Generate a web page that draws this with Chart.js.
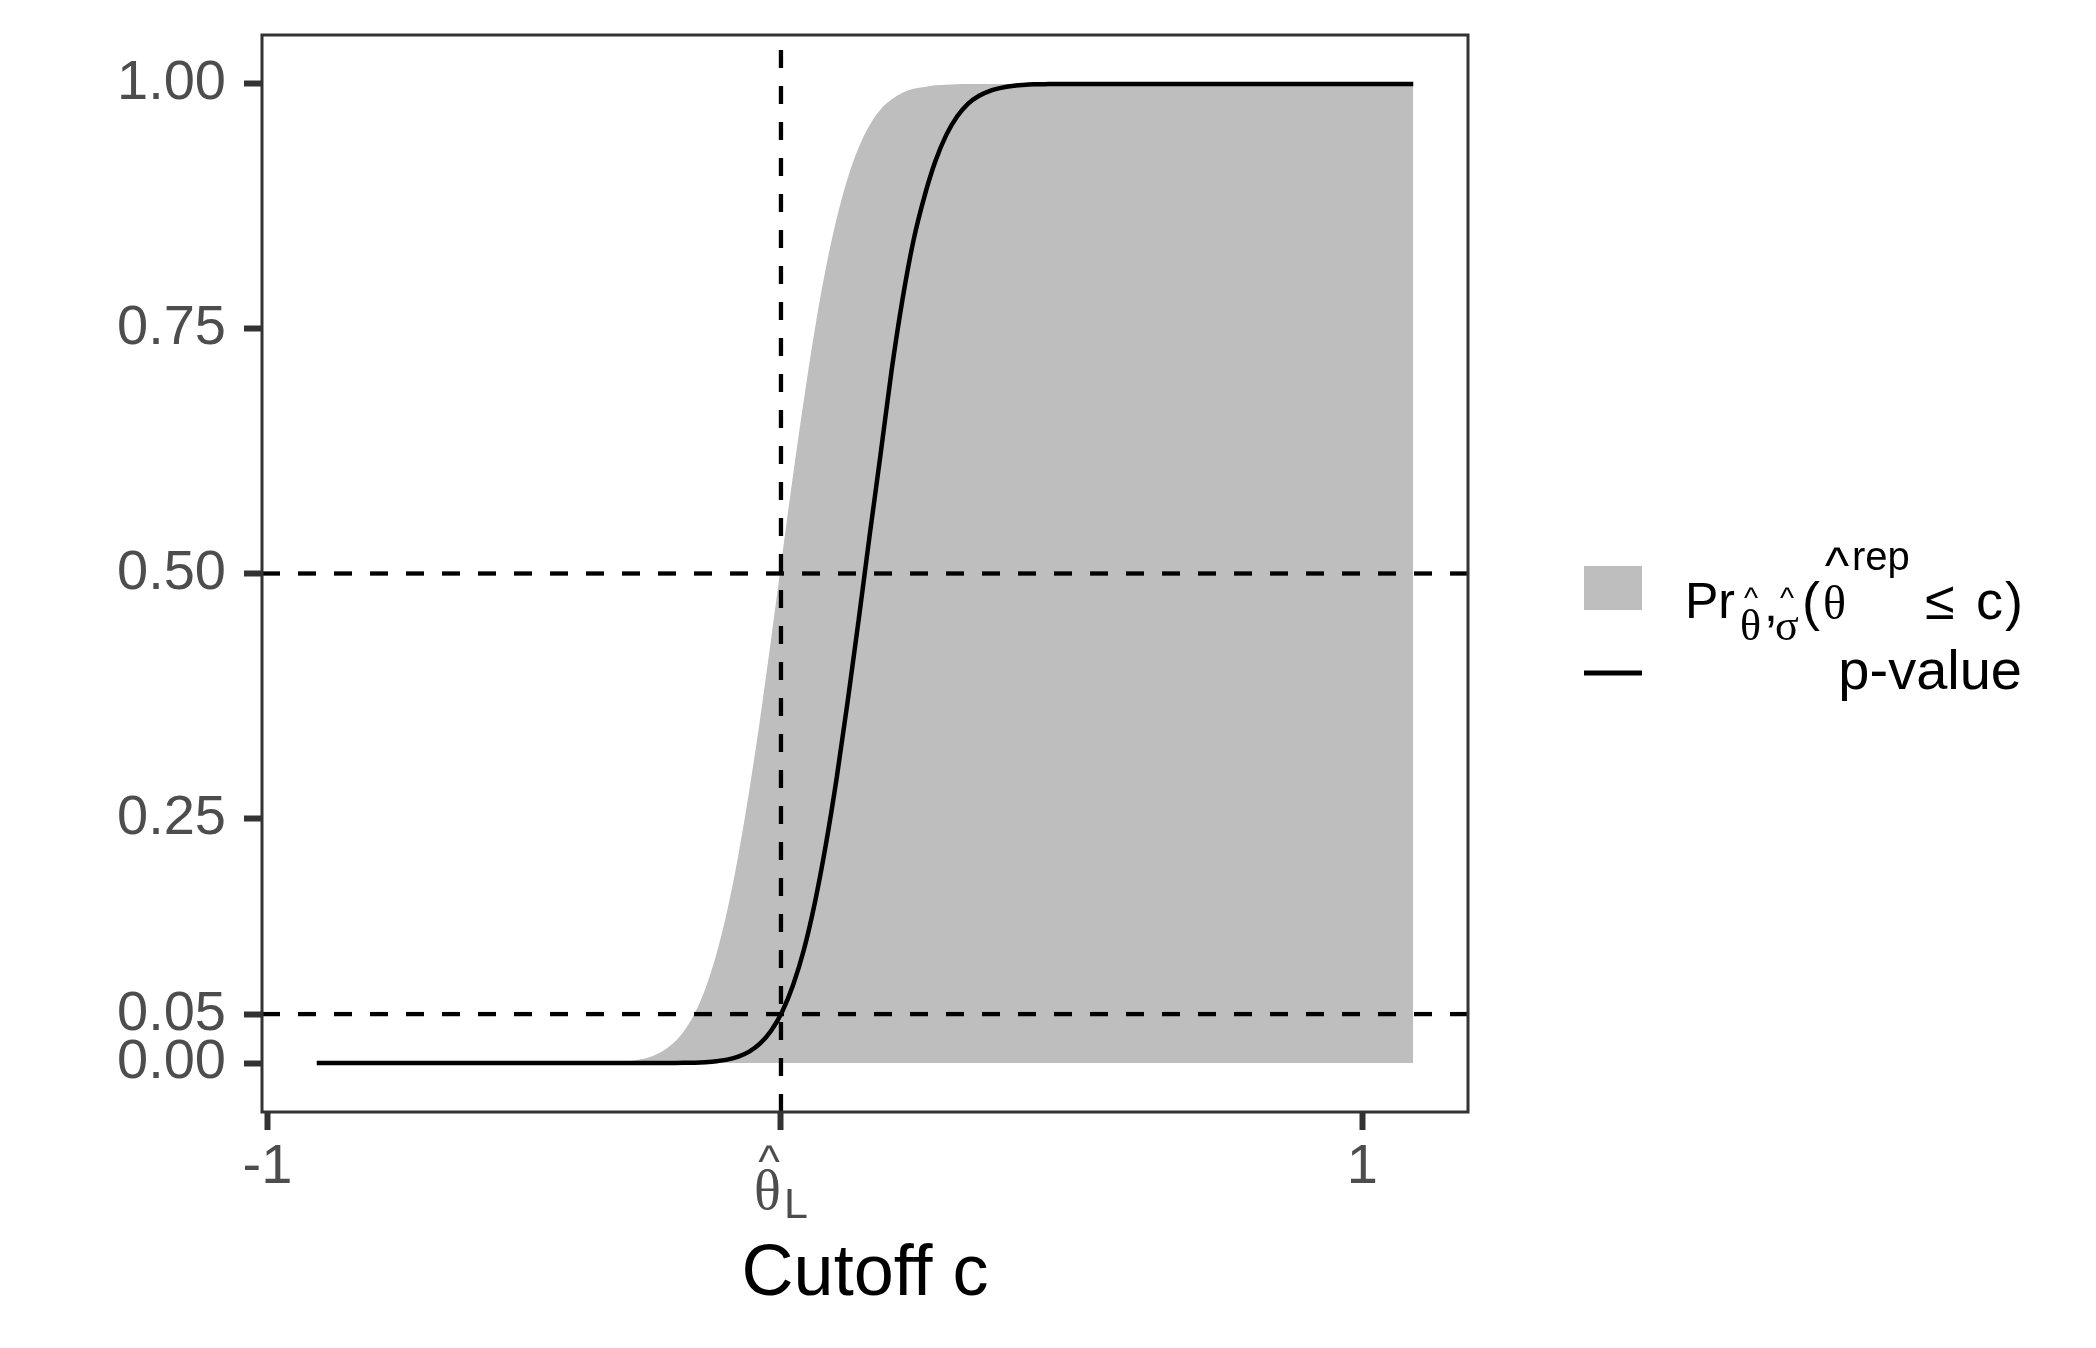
<!DOCTYPE html>
<html>
<head>
<meta charset="utf-8">
<script src="https://cdn.jsdelivr.net/npm/chart.js@4.4.1/dist/chart.umd.min.js"></script>
<style>
html,body{margin:0;padding:0;background:#ffffff;}
#wrap{width:2096px;height:1348px;}
</style>
</head>
<body>
<div id="wrap"><canvas id="c" width="2096" height="1348"></canvas></div>
<script>
// ---- data ----
const cutoff = [-0.91, -0.7, -0.5,
  -0.40, -0.38, -0.36, -0.34, -0.32, -0.30, -0.28, -0.26, -0.24, -0.22,
  -0.20, -0.18, -0.16, -0.14, -0.12, -0.10, -0.08, -0.06, -0.04, -0.02,
  0.00, 0.02, 0.04, 0.06, 0.08, 0.10, 0.12, 0.14, 0.16, 0.18,
  0.20, 0.22, 0.24, 0.26, 0.28, 0.30, 0.32, 0.34, 0.36, 0.38,
  0.40, 0.42, 0.44, 0.46,
  0.6, 0.8, 1.093];
const probRep = [0, 0, 0,
  0.0002, 0.0004, 0.0009, 0.0018, 0.0035, 0.0065, 0.0115, 0.0196, 0.0319, 0.0503,
  0.0761, 0.111, 0.156, 0.212, 0.278, 0.352, 0.433, 0.517, 0.600, 0.678,
  0.750, 0.812, 0.863, 0.904, 0.935, 0.958, 0.974, 0.984, 0.991, 0.995,
  0.997, 0.9986, 0.9993, 0.9997, 1, 1, 1, 1, 1, 1,
  1, 1, 1, 1,
  1, 1, 1];
const pValue = [0, 0, 0,
  0, 0, 0, 0, 0, 0.00001, 0.00003, 0.0001, 0.0002, 0.0004,
  0.0009, 0.0018, 0.0035, 0.0065, 0.0116, 0.0200, 0.0330, 0.0522, 0.0795, 0.116,
  0.164, 0.223, 0.292, 0.370, 0.453, 0.539, 0.622, 0.707, 0.780, 0.840,
  0.885, 0.921, 0.948, 0.967, 0.980, 0.988, 0.993, 0.996, 0.998, 0.999,
  0.9996, 0.9998, 1, 1,
  1, 1, 1];
const thetaL = -0.062;
const refLevels = [0.5, 0.05];
const yTickValues = [0, 0.05, 0.25, 0.5, 0.75, 1];
const yTickLabels = ['0.00', '0.05', '0.25', '0.50', '0.75', '1.00'];
const xTickValues = [-1, thetaL, 1];
const xTickLabels = ['-1', '', '1'];
const xRange = [-1.01, 1.193];
const yRange = [-0.05, 1.05];

// ---- styling ----
const SANS = '"Liberation Sans", Arial, Helvetica, sans-serif';
const SERIF = '"Liberation Serif", "Times New Roman", serif';
const TICK_COLOR = '#4D4D4D';
const LINE_COLOR = '#333333';

const toXY = (xs, ys) => xs.map((x, i) => ({x: x, y: ys[i]}));

const datasets = [];
refLevels.forEach(lvl => {
  datasets.push({
    label: 'ref' + lvl,
    data: [{x: xRange[0], y: lvl}, {x: xRange[1], y: lvl}],
    borderColor: '#000000', borderWidth: 4.3, borderDash: [18, 18],
    pointRadius: 0, fill: false, order: 0
  });
});
datasets.push({
  label: 'vref',
  data: [{x: thetaL, y: yRange[0]}, {x: thetaL, y: yRange[1]}],
  borderColor: '#000000', borderWidth: 4.3, borderDash: [18, 18],
  pointRadius: 0, fill: false, order: 0
});
datasets.push({
  label: 'p-value',
  data: toXY(cutoff, pValue),
  borderColor: '#000000', borderWidth: 4.5, pointRadius: 0, fill: false,
  cubicInterpolationMode: 'monotone', order: 1
});
datasets.push({
  label: 'Pr',
  data: toXY(cutoff, probRep),
  borderColor: 'rgba(0,0,0,0)', borderWidth: 0, backgroundColor: '#BEBEBE',
  pointRadius: 0, fill: 'origin', cubicInterpolationMode: 'monotone', order: 2
});

const overlay = {
  id: 'overlay',
  afterDraw(chart) {
    const ctx = chart.ctx;
    const a = chart.chartArea;
    const xs = chart.scales.x;
    ctx.save();
    // panel border
    ctx.strokeStyle = LINE_COLOR;
    ctx.lineWidth = 3;
    ctx.strokeRect(a.left, a.top, a.right - a.left, a.bottom - a.top);

    function txt(s, x, y, size, fam, align, color) {
      ctx.font = size + 'px ' + fam;
      ctx.textAlign = align || 'left';
      ctx.textBaseline = 'alphabetic';
      ctx.fillStyle = color || '#000000';
      ctx.fillText(s, x, y);
    }
    // theta_L tick label
    const px = xs.getPixelForValue(thetaL);
    txt('θ', px - 27, 1209, 56, SERIF, 'left', TICK_COLOR);
    txt('^', px - 12, 1177, 46, SANS, 'center', TICK_COLOR);
    txt('L', px + 3, 1218, 43, SANS, 'left', TICK_COLOR);

    // legend keys
    ctx.fillStyle = '#BEBEBE';
    ctx.fillRect(1584, 566, 58, 44);
    ctx.strokeStyle = '#000000';
    ctx.lineWidth = 5;
    ctx.beginPath();
    ctx.moveTo(1584, 673);
    ctx.lineTo(1642, 673);
    ctx.stroke();

    // legend label 1: Pr_{θ̂,σ̂}(θ̂^rep ≤ c)
    txt('Pr', 1685, 618, 50, SANS);
    txt('θ', 1740, 640, 44, SERIF);
    txt('^', 1751, 608, 30, SANS, 'center');
    txt(',', 1764, 621, 50, SANS);
    txt('σ', 1775, 640, 44, SERIF);
    txt('^', 1787, 608, 30, SANS, 'center');
    txt('(', 1802, 620, 54, SANS);
    txt('θ', 1823, 619, 48, SERIF);
    txt('^', 1837, 583, 52, SANS, 'center');
    txt('rep', 1852, 570, 40, SANS);
    txt('≤', 1925, 619, 54, SANS);
    txt('c', 1976, 619, 54, SANS);
    txt(')', 2005, 620, 54, SANS);
    // legend label 2
    txt('p-value', 2022, 689, 56, SANS, 'right');
    ctx.restore();
  }
};

new Chart(document.getElementById('c'), {
  type: 'line',
  data: {datasets: datasets},
  options: {
    responsive: false,
    animation: false,
    devicePixelRatio: 1,
    layout: {padding: {left: 0, top: 35, right: 628, bottom: 0}},
    plugins: {legend: {display: false}, tooltip: {enabled: false}},
    scales: {
      x: {
        type: 'linear', min: xRange[0], max: xRange[1],
        afterBuildTicks: s => { s.ticks = xTickValues.map(v => ({value: v})); },
        afterFit: s => { s.height = 236; s.paddingLeft = 0; s.paddingRight = 0; },
        ticks: {
          autoSkip: false, maxRotation: 0, minRotation: 0, padding: 4,
          color: TICK_COLOR, font: {family: SANS, size: 56},
          callback: (v, i) => xTickLabels[i]
        },
        grid: {drawOnChartArea: false, drawTicks: true, tickLength: 18, tickWidth: 6, tickColor: LINE_COLOR},
        border: {display: false},
        title: {display: true, text: 'Cutoff c', color: '#000000',
                font: {family: SANS, size: 72}, padding: {top: 0, bottom: 30}}
      },
      y: {
        type: 'linear', min: yRange[0], max: yRange[1],
        afterBuildTicks: s => { s.ticks = yTickValues.map(v => ({value: v})); },
        afterFit: s => { s.width = 262; s.paddingTop = 0; s.paddingBottom = 0; },
        ticks: {
          autoSkip: false, padding: 18,
          color: TICK_COLOR, font: {family: SANS, size: 56},
          callback: (v, i) => yTickLabels[i]
        },
        grid: {drawOnChartArea: false, drawTicks: true, tickLength: 18, tickWidth: 6, tickColor: LINE_COLOR},
        border: {display: false}
      }
    }
  },
  plugins: [overlay]
});
</script>
</body>
</html>
